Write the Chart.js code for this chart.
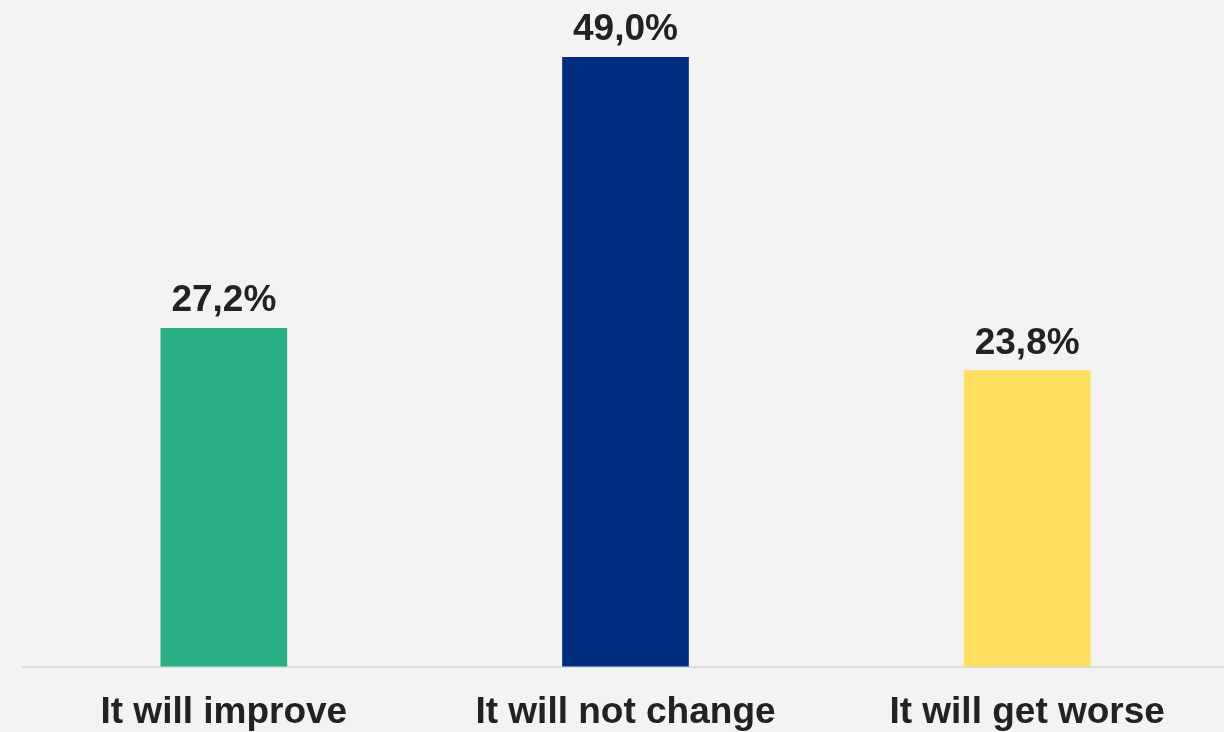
<!DOCTYPE html>
<html>
<head>
<meta charset="utf-8">
<script src="https://cdn.jsdelivr.net/npm/chart.js@4/dist/chart.umd.min.js"></script>
<style>
  html, body { margin: 0; padding: 0; background: #f3f3f3; overflow: hidden; }
  #wrap { width: 1224px; height: 732px; overflow: hidden; }
</style>
</head>
<body>
<div id="wrap"><canvas id="chart" width="1228" height="751"></canvas></div>
<script>
// answer categories and shares (%)
const categories = ['It will improve', 'It will not change', 'It will get worse'];
const shares = [27.2, 49.0, 23.8];
const barColors = ['#2aae86', '#002c80', '#ffdd5e'];

// percent label above each bar, comma as decimal separator
const valueLabels = {
    id: 'valueLabels',
    afterDatasetsDraw(chart) {
        const ctx = chart.ctx;
        const meta = chart.getDatasetMeta(0);
        ctx.save();
        ctx.font = 'bold 37px "Liberation Sans", Arial, sans-serif';
        ctx.fillStyle = '#222222';
        ctx.textAlign = 'center';
        ctx.textBaseline = 'alphabetic';
        meta.data.forEach((bar, i) => {
            const txt = shares[i].toFixed(1).replace('.', ',') + '%';
            ctx.fillText(txt, bar.x, bar.y - 17);
        });
        ctx.restore();
    }
};

new Chart(document.getElementById('chart'), {
    type: 'bar',
    data: {
        labels: categories,
        datasets: [{
            data: shares,
            backgroundColor: barColors,
            borderWidth: 0,
            barThickness: 126
        }]
    },
    options: {
        responsive: false,
        animation: false,
        layout: { padding: { left: 23, right: 0, top: 0, bottom: 0 } },
        plugins: {
            legend: { display: false },
            tooltip: { enabled: false }
        },
        scales: {
            x: {
                grid: { display: false },
                border: { display: true, color: '#dcdcdc', width: 2 },
                ticks: {
                    color: '#222222',
                    padding: 16,
                    maxRotation: 0,
                    font: { family: '"Liberation Sans", Arial, sans-serif', size: 37, weight: 'bold' }
                }
            },
            y: {
                display: false,
                min: 0,
                max: 53.6
            }
        }
    },
    plugins: [valueLabels]
});
</script>
</body>
</html>
